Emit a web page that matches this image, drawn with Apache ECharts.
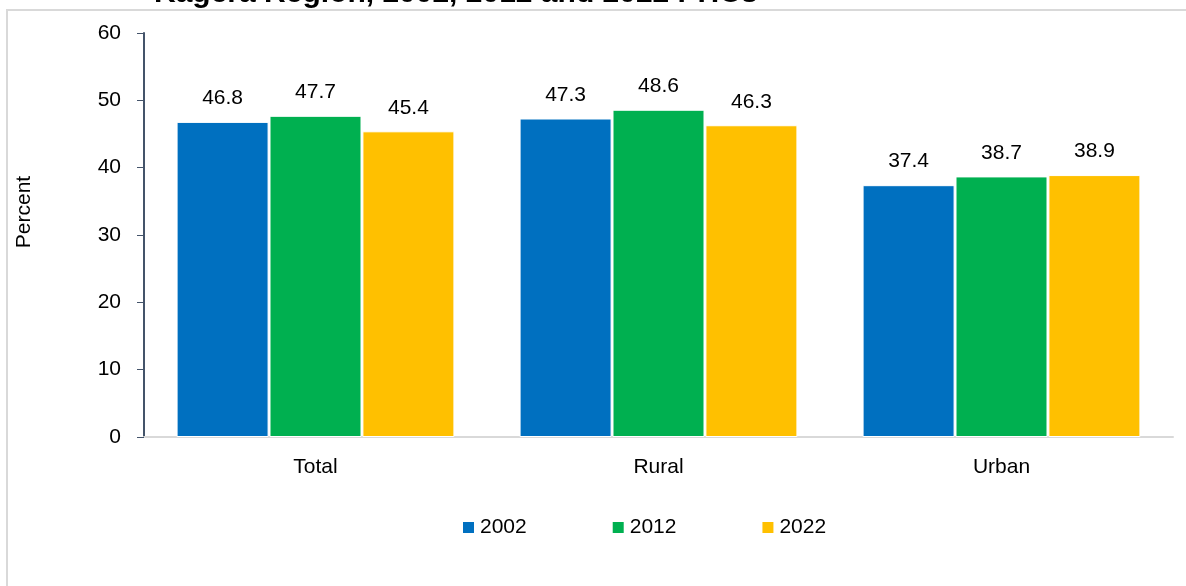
<!DOCTYPE html>
<html>
<head>
<meta charset="utf-8">
<script src="https://cdn.jsdelivr.net/npm/echarts@6/dist/echarts.min.js"></script>
<style>
  html, body { margin: 0; padding: 0; background: #ffffff; }
  #chart { width: 1186px; height: 586px; }
</style>
</head>
<body>
<div id="chart"></div>
<script>
// Census years and area types
const categories = ['Total', 'Rural', 'Urban'];
const years = ['2002', '2012', '2022'];

// Percentages per census year
const values2002 = [46.8, 47.3, 37.4];
const values2012 = [47.7, 48.6, 38.7];
const values2022 = [45.4, 46.3, 38.9];

const yTicks = { min: 0, max: 60, interval: 10 };

const colors = ['#0070C0', '#00B050', '#FFC000'];
const FONT = '"Liberation Sans Narrow", "Liberation Sans", Arial, sans-serif';

const chart = echarts.init(document.getElementById('chart'), null, { renderer: 'canvas' });

function barSeries(name, data, color) {
  return {
    name: name,
    type: 'bar',
    data: data,
    barWidth: 92,
    barGap: '1%',
    itemStyle: { color: color, borderColor: '#ffffff', borderWidth: 1 },
    label: {
      show: true,
      position: 'top',
      distance: 13,
      color: '#000000',
      fontFamily: FONT,
      fontSize: 21,
      formatter: p => p.value.toFixed(1)
    }
  };
}

chart.setOption({
  animation: false,
  backgroundColor: '#ffffff',
  color: colors,
  graphic: [
    {
      type: 'rect',
      silent: true,
      shape: { x: 7, y: 10, width: 1400, height: 800 },
      style: { fill: 'none', stroke: '#d9d9d9', lineWidth: 2 }
    },
    {
      type: 'text',
      silent: true,
      left: 154,
      top: -21,
      style: {
        text: 'Kagera Region, 2002, 2012 and 2022 PHCs',
        fontFamily: '"Liberation Sans", Arial, sans-serif',
        fontWeight: 'bold',
        fontSize: 30,
        fill: '#000000'
      }
    },
    {
      // y-axis title, rotated
      type: 'text',
      silent: true,
      x: 24,
      y: 212,
      rotation: Math.PI / 2,
      style: {
        text: 'Percent',
        fontFamily: FONT,
        fontSize: 21,
        fill: '#000000',
        align: 'center',
        verticalAlign: 'middle'
      }
    }
  ],
  grid: { left: 144, right: 13, top: 33, bottom: 149, containLabel: false },
  legend: {
    data: years,
    left: 461,
    top: 517,
    padding: 0,
    icon: 'rect',
    itemWidth: 13,
    itemHeight: 13,
    itemGap: 84,
    textStyle: { fontFamily: FONT, fontSize: 21, color: '#000000' }
  },
  xAxis: {
    type: 'category',
    data: categories,
    axisLine: { show: true, lineStyle: { color: '#d9d9d9', width: 2 } },
    axisTick: { show: false },
    axisLabel: { fontFamily: FONT, fontSize: 21, color: '#000000', margin: 20 }
  },
  yAxis: {
    type: 'value',
    min: yTicks.min,
    max: yTicks.max,
    interval: yTicks.interval,
    axisLine: { show: true, lineStyle: { color: '#44546A', width: 2 } },
    axisTick: { show: true, length: 7, lineStyle: { color: '#44546A', width: 1 } },
    axisLabel: { fontFamily: FONT, fontSize: 21, color: '#000000', margin: 23 },
    splitLine: { show: false }
  },
  series: [
    barSeries(years[0], values2002, colors[0]),
    barSeries(years[1], values2012, colors[1]),
    barSeries(years[2], values2022, colors[2])
  ]
});
</script>
</body>
</html>
